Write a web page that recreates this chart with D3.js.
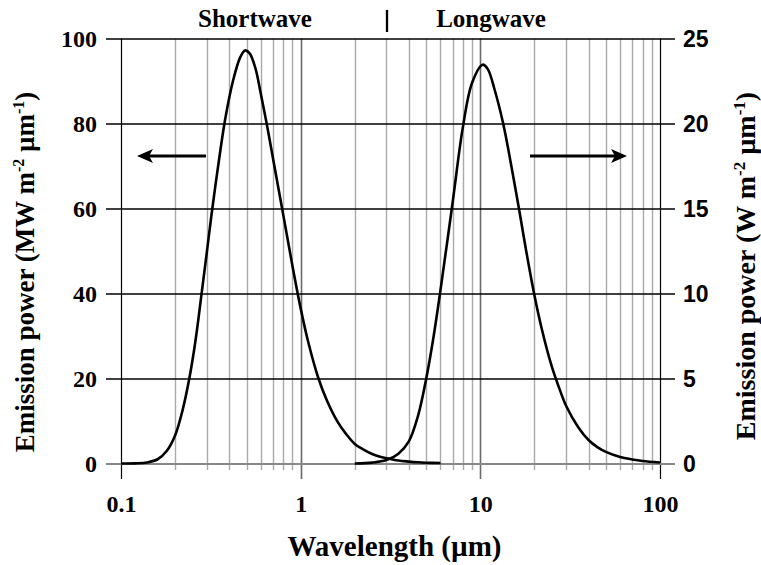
<!DOCTYPE html>
<html>
<head>
<meta charset="utf-8">
<script src="https://cdn.jsdelivr.net/npm/d3@7"></script>
<style>
  body { margin: 0; background: #fff; }
  svg text { font-family: "Liberation Serif", "Times New Roman", serif; font-weight: bold; fill: #000; }
  .sans { font-family: "Liberation Sans", Arial, sans-serif !important; }
</style>
</head>
<body>
<svg id="chart" width="761" height="565"></svg>
<script>
// Blackbody emission spectra: the Sun (left axis, MW m-2 um-1) and the Earth (right axis, W m-2 um-1)
const shortwaveLambda = [0.10, 0.12, 0.14, 0.16, 0.18, 0.20, 0.22, 0.24, 0.26, 0.28, 0.30, 0.32, 0.35, 0.38, 0.42, 0.46, 0.49, 0.52, 0.56, 0.60, 0.65, 0.70, 0.80, 0.90, 1.00, 1.10, 1.25, 1.40, 1.60, 1.80, 2.00, 2.20, 2.50, 2.80, 3.00, 3.50, 4.00, 4.50, 5.00, 6.00];
const shortwaveValue  = [0.0, 0.03, 0.25, 1.0, 3.0, 6.6, 12.5, 20.0, 29.0, 39.5, 49.5, 59.0, 71.0, 81.0, 90.0, 95.5, 97.2, 96.5, 93.0, 87.0, 79.5, 72.0, 58.5, 46.5, 36.5, 28.7, 20.3, 14.8, 9.9, 6.8, 4.6, 3.45, 2.25, 1.55, 1.25, 0.7, 0.45, 0.28, 0.19, 0.1];

const longwaveLambda = [2.0, 2.5, 3.0, 3.5, 4.0, 4.5, 5.0, 5.5, 6.0, 7.0, 8.0, 9.0, 10.3, 11.0, 12.0, 13.4, 15.0, 16.4, 18.0, 20.0, 22.0, 25.0, 28.0, 30.0, 35.0, 40.0, 45.0, 50.0, 60.0, 70.0, 80.0, 100.0];
const longwaveValue  = [0.0, 0.05, 0.2, 0.58, 1.3, 2.8, 5.0, 7.5, 10.2, 15.3, 19.8, 22.4, 23.46, 23.2, 22.0, 20.0, 17.3, 15.0, 12.5, 9.9, 7.9, 5.7, 4.2, 3.4, 2.15, 1.38, 0.95, 0.68, 0.38, 0.24, 0.15, 0.06];

const leftTicks = [0, 20, 40, 60, 80, 100];
const rightTicks = [0, 5, 10, 15, 20, 25];
const xTicks = [0.1, 1, 10, 100];
const xTickLabels = ["0.1", "1", "10", "100"];
const bandLabels = ["Shortwave", "Longwave"];

const svg = d3.select("#chart");

const x = d3.scaleLog().domain([0.1, 100]).range([121, 660]);
const yL = d3.scaleLinear().domain([0, 100]).range([463.5, 38.5]);
const yR = d3.scaleLinear().domain([0, 25]).range([463.5, 38.5]);

// vertical grid: every log tick, decades marked darker and longer
const isMajor = v => Math.abs(Math.log10(v) - Math.round(Math.log10(v))) < 1e-9;
const vGrid = svg.append("g");
x.ticks().forEach(v => {
  const px = Math.round(x(v)) + 0.5;
  const major = isMajor(v);
  const edge = v === 0.1 || v === 100;
  vGrid.append("line")
    .attr("x1", px).attr("x2", px)
    .attr("y1", yL(100)).attr("y2", major ? 479 : 470)
    .attr("stroke", edge ? "#000" : (major ? "#6a6a6a" : "#aaaaaa"))
    .attr("stroke-width", edge ? 1.2 : (major ? 1.6 : 1.4));
});

// horizontal grid via the left axis (lines run past both sides)
const leftAxis = svg.append("g")
  .attr("transform", "translate(106,0)")
  .call(d3.axisLeft(yL).tickValues(leftTicks).tickSize(-569).tickPadding(9).tickFormat(d3.format("d")));
leftAxis.select(".domain").remove();
leftAxis.selectAll(".tick line")
  .attr("stroke", d => d === 0 ? "#888" : "#000")
  .attr("stroke-width", d => d === 0 ? 2 : 1.6);
leftAxis.selectAll(".tick text").style("font-size", "24px").attr("dy", "0.35em");

// right axis labels
const rightAxis = svg.append("g")
  .attr("transform", "translate(675,0)")
  .call(d3.axisRight(yR).tickValues(rightTicks).tickSize(0).tickPadding(8).tickFormat(d3.format("d")));
rightAxis.select(".domain").remove();
rightAxis.selectAll(".tick text").attr("class", "sans").style("font-size", "23px").attr("dy", "0.36em");

// bottom axis labels
const bottomAxis = svg.append("g")
  .attr("transform", "translate(0,463.5)")
  .call(d3.axisBottom(x).tickValues(xTicks).tickSize(0).tickPadding(31).tickFormat((d, i) => xTickLabels[i]));
bottomAxis.select(".domain").remove();
bottomAxis.selectAll(".tick text").style("font-size", "24px");

// emission curves
const lineL = d3.line().x(d => x(d[0])).y(d => yL(d[1])).curve(d3.curveCatmullRom.alpha(0.5));
const lineR = d3.line().x(d => x(d[0])).y(d => yR(d[1])).curve(d3.curveCatmullRom.alpha(0.5));
svg.append("path")
  .datum(d3.zip(shortwaveLambda, shortwaveValue))
  .attr("d", lineL).attr("fill", "none").attr("stroke", "#000").attr("stroke-width", 2.6);
svg.append("path")
  .datum(d3.zip(longwaveLambda, longwaveValue))
  .attr("d", lineR).attr("fill", "none").attr("stroke", "#000").attr("stroke-width", 2.6);

// arrows pointing to the axis each curve belongs to
function arrow(x0, x1, y) {
  const dir = Math.sign(x1 - x0);
  const head = 16, half = 7, notch = 4;
  svg.append("line")
    .attr("x1", x0).attr("x2", x1 - dir * (head - notch)).attr("y1", y).attr("y2", y)
    .attr("stroke", "#000").attr("stroke-width", 2.8);
  svg.append("path")
    .attr("d", `M${x1},${y} L${x1 - dir * head},${y - half} L${x1 - dir * (head - notch)},${y} L${x1 - dir * head},${y + half} Z`)
    .attr("fill", "#000");
}
arrow(206, 137, 156);
arrow(530, 627, 156);

// band labels across the top
svg.append("text").attr("x", 255).attr("y", 27).attr("text-anchor", "middle")
  .style("font-size", "25px").text(bandLabels[0]);
svg.append("text").attr("x", 491).attr("y", 27).attr("text-anchor", "middle")
  .style("font-size", "25px").text(bandLabels[1]);
svg.append("line").attr("x1", 387).attr("x2", 387).attr("y1", 10).attr("y2", 32)
  .attr("stroke", "#000").attr("stroke-width", 2.3);

// axis titles
svg.append("text").attr("x", 394.5).attr("y", 556).attr("text-anchor", "middle")
  .style("font-size", "29px").text("Wavelength (µm)");

function unitTitle(cx, cy, unit, size) {
  const t = svg.append("text")
    .attr("transform", `translate(${cx},${cy}) rotate(-90)`)
    .attr("text-anchor", "middle")
    .style("font-size", size + "px");
  const sup = Math.round(size * 0.6);
  const shift = Math.round(size * 0.37);
  t.append("tspan").text(`Emission power (${unit} m`);
  t.append("tspan").attr("dy", -shift).style("font-size", sup + "px").text("-2");
  t.append("tspan").attr("dy", shift).text(" µm");
  t.append("tspan").attr("dy", -shift).style("font-size", sup + "px").text("-1");
  t.append("tspan").attr("dy", shift).text(")");
}
unitTitle(34, 272, "MW", 27);
unitTitle(755, 266, "W", 28);
</script>
</body>
</html>
